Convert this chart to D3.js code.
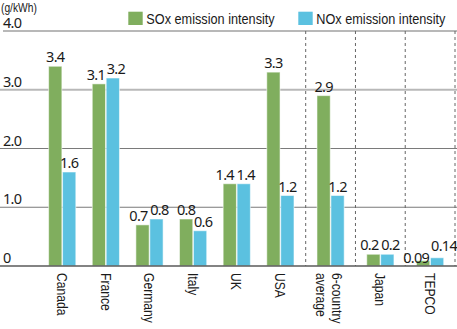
<!DOCTYPE html>
<html>
<head>
<meta charset="utf-8">
<script src="https://cdn.jsdelivr.net/npm/d3@7"></script>
<style>
  body { margin: 0; background: #fff; }
  svg { display: block; }
  .num { font-family: "Noto Sans", "Open Sans", sans-serif; font-size: 14.5px; letter-spacing: -0.7px; fill: #1a1a1a; }
  .cond { font-family: "Liberation Sans", Arial, sans-serif; fill: #1a1a1a; }
</style>
</head>
<body>
<div id="chart"></div>
<script>
// chart data
const countries = ["Canada", "France", "Germany", "Italy", "UK", "USA"];
const others = ["6-country average", "Japan", "TEPCO"];
const categories = countries.concat(others);
const soxValues = [3.4, 3.1, 0.7, 0.8, 1.4, 3.3, 2.9, 0.2, 0.09];
const noxValues = [1.6, 3.2, 0.8, 0.6, 1.4, 1.2, 1.2, 0.2, 0.14];
const seriesNames = ["SOx emission intensity", "NOx emission intensity"];
const yTicks = [0, 1, 2, 3, 4];
const tickLabels = ["0", "1.0", "2.0", "3.0", "4.0"];

const COLORS = ["#80ae5e", "#5bc1e0"];
const NARROW = 0.82; // horizontal squeeze to imitate a condensed face
// nudges for value labels that sit side by side [dx, dy]
const labelNudge = {
    "France-0": [-3, 0], "France-1": [3, 0],
    "Germany-0": [-4, 0], "Germany-1": [3, 0],
    "Italy-1": [3, 0],
    "UK-0": [-5, 0], "UK-1": [2, 0],
    "Japan-0": [-4, 0], "Japan-1": [3, 0],
    "TEPCO-0": [-7, 6], "TEPCO-1": [7, -3]
};

const width = 457, height = 329;

const svg = d3.select("#chart").append("svg")
    .attr("width", width)
    .attr("height", height);

const y = d3.scaleLinear().domain([0, 4]).range([266, 31]);

// two sections: six countries, then the three compared groups split by dashed lines
const xA = d3.scaleBand().domain(countries).range([40.4, 302.2]);
const xB = d3.scaleBand().domain(others).range([305.7, 455]);
function center(c) {
    return countries.includes(c) ? xA(c) + xA.bandwidth() / 2 : xB(c) + xB.bandwidth() / 2;
}
const xInner = d3.scaleBand().domain([0, 1]).range([-13.6, 13.6]).paddingInner(0.05);

function narrowText(parent, x, y, size, str, extra) {
    return parent.append("text")
        .attr("class", "cond")
        .attr("transform", `translate(${x},${y}) ${extra || ""} scale(${NARROW},1)`)
        .style("font-size", size + "px")
        .text(str);
}

// gridlines
svg.selectAll("line.grid")
    .data(yTicks.filter(d => d > 0))
    .join("line")
    .attr("class", "grid")
    .attr("x1", d => d === 4 ? 3 : 0)
    .attr("x2", width)
    .attr("y1", d => y(d))
    .attr("y2", d => y(d))
    .attr("stroke", d => d >= 3 ? "#b8b8b8" : "#7a7a7a")
    .attr("stroke-width", d => d >= 3 ? 2 : 1.2);

// dashed separators
const sepX = others.map(c => xB(c)).concat([xB.range()[1]]);
svg.selectAll("line.sep")
    .data(sepX)
    .join("line")
    .attr("class", "sep")
    .attr("x1", d => d)
    .attr("x2", d => d)
    .attr("y1", y(4))
    .attr("y2", y(0))
    .attr("stroke", "#666")
    .attr("stroke-width", 1)
    .attr("stroke-dasharray", "3,3");

// tick labels
svg.selectAll("text.tick")
    .data(yTicks)
    .join("text")
    .attr("class", "tick num")
    .attr("x", 3)
    .attr("y", d => y(d) - 3)
    .style("font-size", "14.5px")
    .text((d, i) => tickLabels[i]);

narrowText(svg, 1, 12, 12.5, "(g/kWh)");

// bars
const rows = categories.map((c, i) => ({ cat: c, vals: [soxValues[i], noxValues[i]] }));
const bars = [];
rows.forEach(r => r.vals.forEach((v, s) => bars.push({ cat: r.cat, s: s, v: v })));

svg.selectAll("rect.bar")
    .data(bars)
    .join("rect")
    .attr("class", "bar")
    .attr("x", d => center(d.cat) + xInner(d.s))
    .attr("width", xInner.bandwidth())
    .attr("y", d => y(d.v))
    .attr("height", d => y(0) - y(d.v))
    .attr("fill", d => COLORS[d.s])
    .attr("stroke", "#ffffff")
    .attr("stroke-opacity", 0.55)
    .attr("stroke-width", 1);

// baseline
svg.append("line")
    .attr("x1", 0)
    .attr("x2", width)
    .attr("y1", y(0))
    .attr("y2", y(0))
    .attr("stroke", "#5a5a5a")
    .attr("stroke-width", 1.5);

// value labels
const nudge = d => labelNudge[d.cat + "-" + d.s] || [0, 0];
svg.selectAll("text.val")
    .data(bars)
    .join("text")
    .attr("class", "val num")
    .attr("text-anchor", "middle")
    .attr("x", d => center(d.cat) + xInner(d.s) + xInner.bandwidth() / 2 + nudge(d)[0])
    .attr("y", d => y(d.v) - 4 + nudge(d)[1])
    .text(d => String(d.v));

// category labels, rotated
categories.forEach(c => {
    const lines = c === "6-country average" ? ["6-country", "average"] : [c];
    const lh = 15.5;
    lines.forEach((ln, i) => {
        const off = (lines.length - 1) / 2 * lh - i * lh - (lines.length > 1 ? 1.5 : 0);
        // rotated 90deg: glyphs extend to the right of the anchor, so shift by half the cap height
        narrowText(svg, center(c) - 5.3 + off, 273, 14.8, ln, "rotate(90)");
    });
});

// legend
const legendX = [128.3, 298.3];
seriesNames.forEach((name, i) => {
    svg.append("rect")
        .attr("x", legendX[i])
        .attr("y", 11.7)
        .attr("width", 14.4)
        .attr("height", 13.3)
        .attr("fill", COLORS[i]);
    narrowText(svg, legendX[i] + 18, 24, 15.5, name);
});
</script>
</body>
</html>
